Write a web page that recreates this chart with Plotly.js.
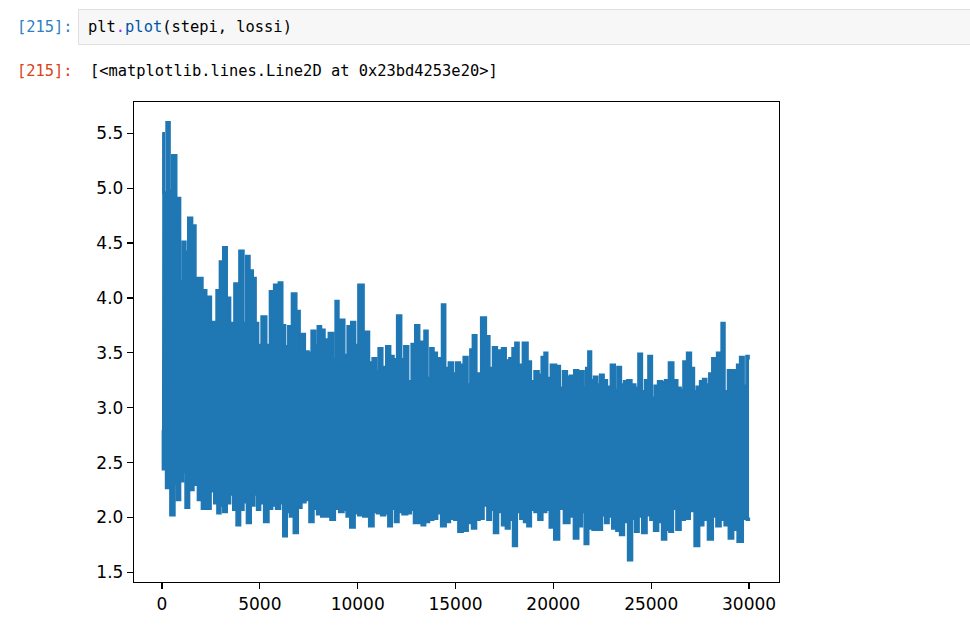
<!DOCTYPE html>
<html>
<head>
<meta charset="utf-8">
<script src="https://cdn.plot.ly/plotly-3.0.1.min.js"></script>
<style>
  html, body { margin: 0; padding: 0; background: #fff; width: 970px; height: 626px; overflow: hidden; }
  .mono { position: absolute; font-family: 'DejaVu Sans Mono', 'Liberation Mono', monospace; font-size: 15.4px; line-height: 18px; white-space: pre; }
  #inBox { position: absolute; left: 78px; top: 9px; width: 900px; height: 34px; background: #f7f7f7; border: 1px solid #e0e0e0; }
  #chart { position: absolute; left: 0; top: 90px; width: 970px; height: 536px; }
</style>
</head>
<body>
<div id="inBox"></div>
<div class="mono" style="left:17px; top:18px; color:#307fc1;">[215]:</div>
<div class="mono" style="left:88px; top:18px; color:#000;">plt<span style="color:#aa22ff">.</span><span style="color:#0055aa">plot</span>(stepi, lossi)</div>
<div class="mono" style="left:17px; top:62px; color:#d84315;">[215]:</div>
<div class="mono" style="left:90px; top:62px; color:#000;">[&lt;matplotlib.lines.Line2D at 0x23bd4253e20&gt;]</div>
<div id="chart"></div>
<script>
// Upper envelope of the loss curve (step, loss)
const stepHi = [15,153,322,445,613,833,1007,1125,1263,1431,
  1636,1774,1978,2147,2367,2622,2709,2878,3052,3221,
  3389,3563,3849,4074,4243,4381,4550,4718,4841,4974,
  5214,5434,5608,5863,6083,6201,6375,6543,6748,6968,
  7090,7193,7397,7566,7735,7908,8026,8215,8384,8675,
  8793,8961,9064,9217,9406,9575,9779,9953,10130,10465,
  10684,10853,11006,11144,11364,11568,11742,11911,12131,12305,
  12473,12678,12846,13051,13225,13357,13480,13649,13787,13956,
  14124,14247,14380,14554,14774,14942,15116,15321,15525,15694,
  15832,15949,16169,16461,16630,16818,17023,17192,17314,17447,
  17672,17841,17994,18132,18301,18592,18761,18930,19155,19323,
  19492,19615,19748,20003,20259,20397,20601,20770,20944,21199,
  21317,21455,21624,21741,21844,21997,22171,22304,22478,22646,
  22815,23071,23193,23362,23531,23705,23873,24093,24267,24435,
  24604,24778,24947,25115,25253,25458,25627,25800,26020,26225,
  26429,26567,26736,26940,27109,27247,27416,27590,27723,27896,
  28050,28203,28305,28438,28540,28663,28817,29036,29205,29328,
  29461,29634,29803,29941,29999];
const lossHi = [5.50,4.96,5.60,4.98,5.30,4.91,4.15,4.51,4.42,4.73,
  4.66,4.18,4.18,4.07,4.01,3.78,3.66,4.07,4.33,4.46,
  4.00,3.77,4.13,4.43,3.77,4.38,4.25,4.18,3.77,3.57,
  3.83,3.57,4.06,4.12,4.14,3.75,3.56,3.74,4.04,3.88,
  3.51,3.67,3.51,3.50,3.70,3.57,3.74,3.71,3.62,3.68,
  3.44,3.97,3.45,3.80,3.48,3.74,3.78,3.57,4.12,3.69,
  3.41,3.45,3.33,3.54,3.37,3.56,3.47,3.44,3.84,3.44,
  3.56,3.24,3.58,3.75,3.60,3.27,3.70,3.27,3.54,3.50,
  3.45,3.36,3.94,3.36,3.41,3.31,3.41,3.39,3.46,3.21,
  3.53,3.66,3.31,3.82,3.65,3.36,3.55,3.52,3.34,3.54,
  3.43,3.45,3.54,3.59,3.39,3.59,3.42,3.24,3.33,3.30,
  3.46,3.50,3.27,3.39,3.38,3.18,3.33,3.28,3.29,3.34,
  3.18,3.33,3.18,3.36,3.51,3.25,3.28,3.21,3.30,3.25,
  3.19,3.39,3.16,3.37,3.21,3.24,3.25,3.21,3.18,3.49,
  3.15,3.25,3.47,3.09,3.20,3.24,3.23,3.25,3.41,3.25,
  3.18,3.16,3.42,3.50,3.36,3.15,3.19,3.24,3.26,3.21,
  3.31,3.45,3.25,3.50,3.25,3.77,3.15,3.34,3.34,3.31,
  3.39,3.46,3.20,3.47,3.44];

// Lower envelope of the loss curve (step, loss)
const stepLo = [0,102,322,547,716,833,1007,1125,1293,1467,
  1738,1943,2147,2367,2592,2760,2914,3052,3221,3389,
  3563,3732,3900,4074,4243,4447,4616,4805,4923,5097,
  5352,5521,5725,5945,6119,6288,6456,6630,6850,7019,
  7223,7428,7653,7821,8041,8245,8501,8726,8931,9186,
  9355,9524,9728,9953,10122,10465,10720,10889,11093,11313,
  11487,11655,11824,11998,12167,12422,12627,12795,12969,13189,
  13357,13531,13751,13956,14160,14380,14605,14810,15065,15234,
  15489,15745,15949,16139,16307,16548,16716,16885,17059,17279,
  17483,17672,17841,18045,18214,18419,18592,18761,18930,19155,
  19323,19543,19717,19922,20177,20397,20687,20944,21164,21368,
  21537,21675,21879,22135,22391,22560,22733,22902,23122,23326,
  23500,23705,23940,24093,24267,24435,24655,24860,25064,25238,
  25458,25662,25851,26020,26189,26393,26598,26823,27109,27334,
  27554,27758,28050,28234,28438,28643,28868,29072,29292,29547,
  29803,29972,29999];
const lossLo = [2.80,2.44,2.27,2.02,2.31,2.16,2.33,2.42,2.09,2.25,
  2.30,2.16,2.08,2.08,2.24,2.13,2.04,2.11,2.05,2.13,
  2.21,2.07,1.93,2.07,2.14,1.95,2.11,2.21,2.07,2.13,
  1.96,2.08,2.11,2.08,2.13,1.83,2.05,2.01,1.86,2.09,
  2.14,2.16,1.96,2.08,2.03,2.01,2.01,1.98,2.08,2.05,
  2.07,2.01,1.91,2.04,2.02,2.01,1.92,2.05,2.04,2.02,
  2.04,1.92,2.08,1.96,2.05,2.03,2.04,2.07,1.95,1.95,
  1.93,1.96,1.98,1.99,2.04,1.92,1.96,1.99,1.98,1.87,
  1.88,1.95,1.90,1.98,1.99,2.11,1.98,2.07,1.86,2.05,
  1.93,1.90,1.98,1.74,2.05,1.99,1.96,1.92,2.07,2.05,
  1.98,2.05,2.07,1.91,1.80,2.08,1.95,2.01,1.81,1.92,
  2.05,1.76,1.90,1.89,1.89,2.02,1.95,2.01,1.90,1.88,
  1.84,1.96,1.61,1.99,1.87,2.01,1.86,2.02,1.98,1.88,
  1.96,1.80,1.89,1.87,2.08,1.89,1.98,1.99,2.06,1.74,
  1.93,1.98,1.80,2.01,1.92,1.98,1.93,1.81,1.89,1.78,
  1.99,1.98,2.00];

// Tick labels
const xTickVals = [0, 5000, 10000, 15000, 20000, 25000, 30000];
const xTickText = ['0', '5000', '10000', '15000', '20000', '25000', '30000'];
const yTickVals = [1.5, 2.0, 2.5, 3.0, 3.5, 4.0, 4.5, 5.0, 5.5];
const yTickText = ['1.5', '2.0', '2.5', '3.0', '3.5', '4.0', '4.5', '5.0', '5.5'];

const lineColor = '#1f77b4';
const tickFont = { family: 'DejaVu Sans', size: 17, color: '#000' };

const traces = [
  { x: stepLo, y: lossLo, type: 'scatter', mode: 'lines',
    line: { color: lineColor, width: 2.7, shape: 'hvh' }, hoverinfo: 'skip' },
  { x: stepHi, y: lossHi, type: 'scatter', mode: 'lines',
    line: { color: lineColor, width: 2.7, shape: 'hvh' }, fill: 'tonexty', fillcolor: lineColor, hoverinfo: 'skip' }
];

const axisBase = {
  ticks: 'outside', ticklen: 6, tickwidth: 1.2, tickcolor: '#000',
  showline: true, linecolor: '#000', linewidth: 1.2, mirror: true,
  showgrid: false, zeroline: false, tickfont: tickFont, tickmode: 'array'
};

const layout = {
  width: 970, height: 536,
  margin: { l: 134, r: 191, t: 12, b: 44, pad: 0 },
  paper_bgcolor: '#fff', plot_bgcolor: '#fff',
  showlegend: false, hovermode: false,
  xaxis: Object.assign({}, axisBase, { range: [-1430, 31530], tickvals: xTickVals, ticktext: xTickText }),
  yaxis: Object.assign({}, axisBase, { range: [1.412, 5.785], tickvals: yTickVals, ticktext: yTickText })
};

Plotly.newPlot('chart', traces, layout, { displayModeBar: false, staticPlot: true });
</script>
</body>
</html>
